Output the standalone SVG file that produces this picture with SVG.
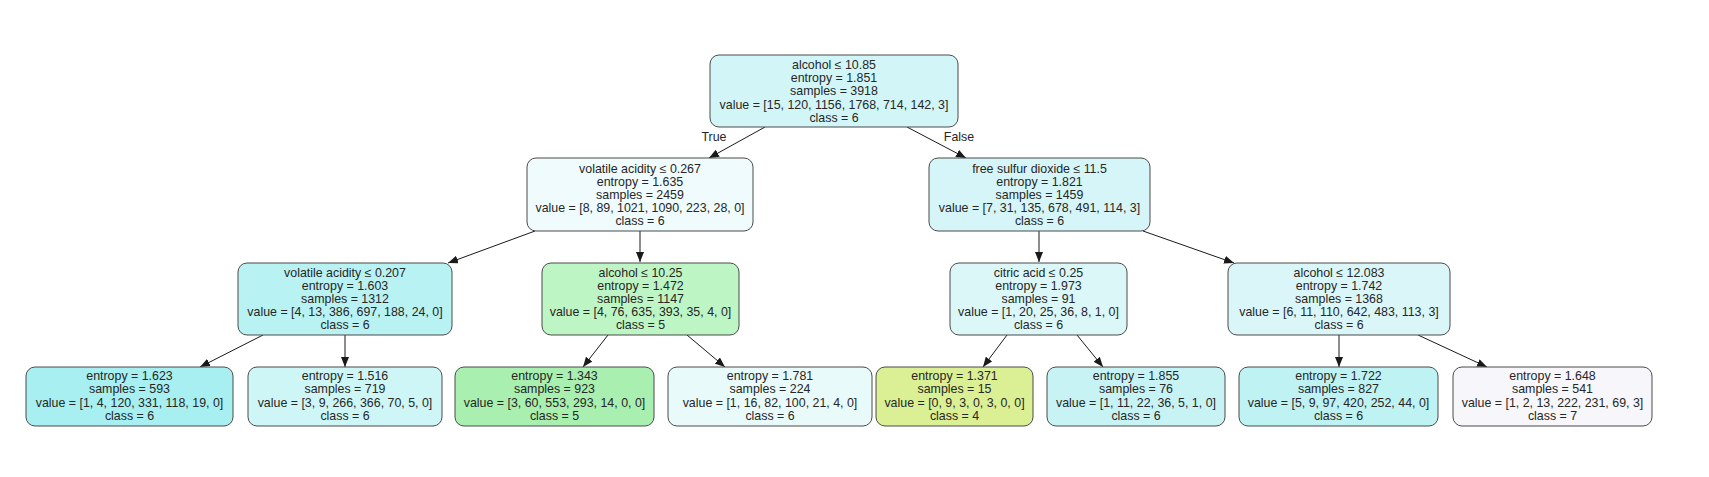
<svg xmlns="http://www.w3.org/2000/svg" width="1709" height="477" viewBox="0 0 1709 477">
<style>
.box{stroke:#4a4a4a;stroke-width:1}
.t{font-family:"Liberation Sans",Arial,sans-serif;font-size:12.4px;fill:#262626;text-anchor:middle}
.e{stroke:#1a1a1a;stroke-width:1;fill:none;marker-end:url(#ah)}
</style>
<defs>
<marker id="ah" markerUnits="userSpaceOnUse" markerWidth="10" markerHeight="8" refX="10" refY="4" orient="auto">
<path d="M0,0 L10,4 L0,8 z" fill="#1a1a1a"/>
</marker>
</defs>
<rect width="1709" height="477" fill="#ffffff"/>
<g id="edges">
<line class="e" x1="765" y1="127" x2="709" y2="158"/>
<line class="e" x1="907" y1="127" x2="966" y2="158"/>
<line class="e" x1="535" y1="231" x2="448" y2="263"/>
<line class="e" x1="640" y1="231" x2="640" y2="262"/>
<line class="e" x1="1039" y1="231" x2="1039" y2="262"/>
<line class="e" x1="1143" y1="231" x2="1234" y2="263"/>
<line class="e" x1="263" y1="335" x2="200" y2="367"/>
<line class="e" x1="345" y1="335" x2="345" y2="367"/>
<line class="e" x1="608" y1="335" x2="583" y2="367"/>
<line class="e" x1="687" y1="335" x2="725" y2="367"/>
<line class="e" x1="1007" y1="335" x2="983" y2="367"/>
<line class="e" x1="1077" y1="335" x2="1103" y2="367"/>
<line class="e" x1="1339" y1="335" x2="1339" y2="367"/>
<line class="e" x1="1418" y1="335" x2="1487" y2="367"/>
<text class="t" x="714" y="141">True</text>
<text class="t" x="959" y="141">False</text>
</g>
<g id="n0">
<rect class="box" x="710" y="55" width="248" height="72" rx="9" fill="#d2f6f7"/>
<text class="t" x="834" y="69">alcohol ≤ 10.85</text>
<text class="t" x="834" y="82.2">entropy = 1.851</text>
<text class="t" x="834" y="95.4">samples = 3918</text>
<text class="t" x="834" y="108.6">value = [15, 120, 1156, 1768, 714, 142, 3]</text>
<text class="t" x="834" y="121.8">class = 6</text>
</g>
<g id="n1">
<rect class="box" x="527" y="158" width="226" height="73" rx="9" fill="#f0fbfd"/>
<text class="t" x="640" y="172.5">volatile acidity ≤ 0.267</text>
<text class="t" x="640" y="185.7">entropy = 1.635</text>
<text class="t" x="640" y="198.9">samples = 2459</text>
<text class="t" x="640" y="212.1">value = [8, 89, 1021, 1090, 223, 28, 0]</text>
<text class="t" x="640" y="225.3">class = 6</text>
</g>
<g id="n8">
<rect class="box" x="929" y="158" width="221" height="73" rx="9" fill="#d5f5f8"/>
<text class="t" x="1039.5" y="172.5">free sulfur dioxide ≤ 11.5</text>
<text class="t" x="1039.5" y="185.7">entropy = 1.821</text>
<text class="t" x="1039.5" y="198.9">samples = 1459</text>
<text class="t" x="1039.5" y="212.1">value = [7, 31, 135, 678, 491, 114, 3]</text>
<text class="t" x="1039.5" y="225.3">class = 6</text>
</g>
<g id="n2">
<rect class="box" x="238" y="263" width="214" height="72" rx="9" fill="#b9f2f3"/>
<text class="t" x="345" y="276.5">volatile acidity ≤ 0.207</text>
<text class="t" x="345" y="289.7">entropy = 1.603</text>
<text class="t" x="345" y="302.9">samples = 1312</text>
<text class="t" x="345" y="316.1">value = [4, 13, 386, 697, 188, 24, 0]</text>
<text class="t" x="345" y="329.3">class = 6</text>
</g>
<g id="n5">
<rect class="box" x="542" y="263" width="197" height="72" rx="9" fill="#bef5c4"/>
<text class="t" x="640.5" y="276.5">alcohol ≤ 10.25</text>
<text class="t" x="640.5" y="289.7">entropy = 1.472</text>
<text class="t" x="640.5" y="302.9">samples = 1147</text>
<text class="t" x="640.5" y="316.1">value = [4, 76, 635, 393, 35, 4, 0]</text>
<text class="t" x="640.5" y="329.3">class = 5</text>
</g>
<g id="n9">
<rect class="box" x="950" y="263" width="177" height="72" rx="9" fill="#dcf7f8"/>
<text class="t" x="1038.5" y="276.5">citric acid ≤ 0.25</text>
<text class="t" x="1038.5" y="289.7">entropy = 1.973</text>
<text class="t" x="1038.5" y="302.9">samples = 91</text>
<text class="t" x="1038.5" y="316.1">value = [1, 20, 25, 36, 8, 1, 0]</text>
<text class="t" x="1038.5" y="329.3">class = 6</text>
</g>
<g id="n12">
<rect class="box" x="1228" y="263" width="222" height="72" rx="9" fill="#dbf6f8"/>
<text class="t" x="1339" y="276.5">alcohol ≤ 12.083</text>
<text class="t" x="1339" y="289.7">entropy = 1.742</text>
<text class="t" x="1339" y="302.9">samples = 1368</text>
<text class="t" x="1339" y="316.1">value = [6, 11, 110, 642, 483, 113, 3]</text>
<text class="t" x="1339" y="329.3">class = 6</text>
</g>
<g id="n3">
<rect class="box" x="26" y="367" width="207" height="59" rx="9" fill="#a7eff0"/>
<text class="t" x="129.5" y="380">entropy = 1.623</text>
<text class="t" x="129.5" y="393.3">samples = 593</text>
<text class="t" x="129.5" y="406.6">value = [1, 4, 120, 331, 118, 19, 0]</text>
<text class="t" x="129.5" y="419.9">class = 6</text>
</g>
<g id="n4">
<rect class="box" x="248" y="367" width="194" height="59" rx="9" fill="#cef6f7"/>
<text class="t" x="345" y="380">entropy = 1.516</text>
<text class="t" x="345" y="393.3">samples = 719</text>
<text class="t" x="345" y="406.6">value = [3, 9, 266, 366, 70, 5, 0]</text>
<text class="t" x="345" y="419.9">class = 6</text>
</g>
<g id="n6">
<rect class="box" x="455" y="367" width="199" height="59" rx="9" fill="#a9efaf"/>
<text class="t" x="554.5" y="380">entropy = 1.343</text>
<text class="t" x="554.5" y="393.3">samples = 923</text>
<text class="t" x="554.5" y="406.6">value = [3, 60, 553, 293, 14, 0, 0]</text>
<text class="t" x="554.5" y="419.9">class = 5</text>
</g>
<g id="n7">
<rect class="box" x="668" y="367" width="204" height="59" rx="9" fill="#e9fafb"/>
<text class="t" x="770" y="380">entropy = 1.781</text>
<text class="t" x="770" y="393.3">samples = 224</text>
<text class="t" x="770" y="406.6">value = [1, 16, 82, 100, 21, 4, 0]</text>
<text class="t" x="770" y="419.9">class = 6</text>
</g>
<g id="n10">
<rect class="box" x="876" y="367" width="157" height="59" rx="9" fill="#dbef95"/>
<text class="t" x="954.5" y="380">entropy = 1.371</text>
<text class="t" x="954.5" y="393.3">samples = 15</text>
<text class="t" x="954.5" y="406.6">value = [0, 9, 3, 0, 3, 0, 0]</text>
<text class="t" x="954.5" y="419.9">class = 4</text>
</g>
<g id="n11">
<rect class="box" x="1047" y="367" width="178" height="59" rx="9" fill="#c8f3f5"/>
<text class="t" x="1136" y="380">entropy = 1.855</text>
<text class="t" x="1136" y="393.3">samples = 76</text>
<text class="t" x="1136" y="406.6">value = [1, 11, 22, 36, 5, 1, 0]</text>
<text class="t" x="1136" y="419.9">class = 6</text>
</g>
<g id="n13">
<rect class="box" x="1239" y="367" width="199" height="59" rx="9" fill="#bff2f2"/>
<text class="t" x="1338.5" y="380">entropy = 1.722</text>
<text class="t" x="1338.5" y="393.3">samples = 827</text>
<text class="t" x="1338.5" y="406.6">value = [5, 9, 97, 420, 252, 44, 0]</text>
<text class="t" x="1338.5" y="419.9">class = 6</text>
</g>
<g id="n14">
<rect class="box" x="1453" y="367" width="199" height="59" rx="9" fill="#f6f6fb"/>
<text class="t" x="1552.5" y="380">entropy = 1.648</text>
<text class="t" x="1552.5" y="393.3">samples = 541</text>
<text class="t" x="1552.5" y="406.6">value = [1, 2, 13, 222, 231, 69, 3]</text>
<text class="t" x="1552.5" y="419.9">class = 7</text>
</g>
</svg>
